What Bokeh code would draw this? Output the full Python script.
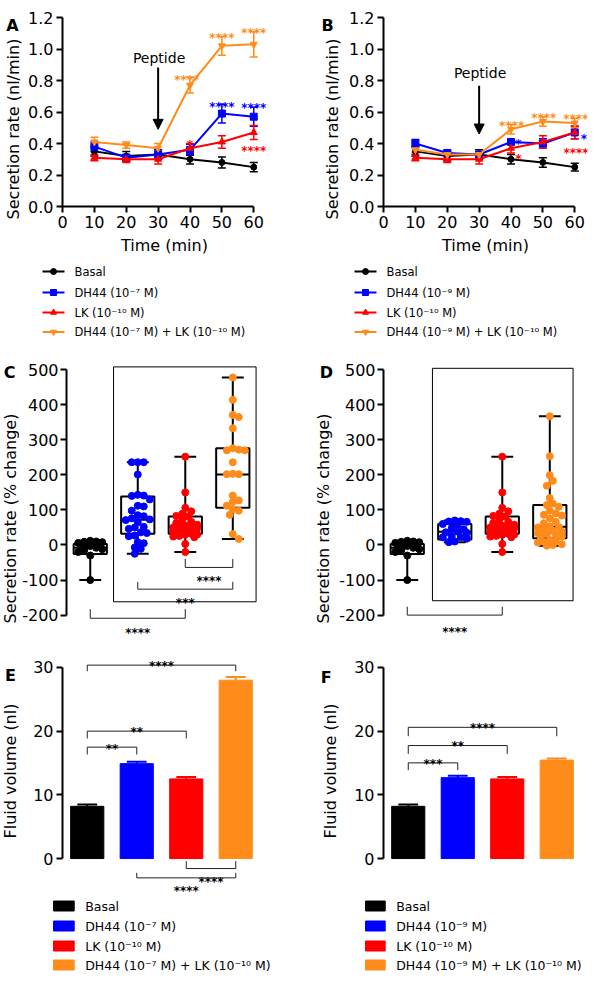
import math
from bokeh.plotting import figure
from bokeh.layouts import column, row
from bokeh.models import (Range1d, FixedTicker, Arrow, NormalHead, Whisker,
                          TeeHead, ColumnDataSource, NumeralTickFormatter)
from bokeh.embed import file_html
from bokeh.resources import INLINE
from bokeh.core.properties import value

FONT = "DejaVu Sans"
COLORS = ["#000000", "#0000FF", "#FF0000", "#FF8C1A"]
MARKERS = ["circle", "square", "triangle", "inverted_triangle"]

# ---------------- data ----------------
time_min = [10, 20, 30, 40, 50, 60]

a_basal = [0.35, 0.32, 0.33, 0.30, 0.28, 0.25]
a_basal_sem = [0.03, 0.03, 0.03, 0.03, 0.035, 0.03]
a_dh44 = [0.38, 0.31, 0.33, 0.36, 0.59, 0.57]
a_dh44_sem = [0.03, 0.02, 0.03, 0.035, 0.06, 0.06]
a_lk = [0.31, 0.30, 0.30, 0.37, 0.41, 0.47]
a_lk_sem = [0.02, 0.02, 0.03, 0.03, 0.04, 0.045]
a_combo = [0.41, 0.39, 0.37, 0.77, 1.02, 1.03]
a_combo_sem = [0.03, 0.02, 0.03, 0.05, 0.06, 0.08]

b_basal = [0.35, 0.32, 0.33, 0.30, 0.28, 0.25]
b_basal_sem = [0.03, 0.03, 0.03, 0.03, 0.03, 0.025]
b_dh44 = [0.40, 0.34, 0.33, 0.41, 0.40, 0.47]
b_dh44_sem = [0.025, 0.015, 0.02, 0.015, 0.03, 0.04]
b_lk = [0.31, 0.30, 0.30, 0.37, 0.41, 0.47]
b_lk_sem = [0.02, 0.02, 0.03, 0.03, 0.04, 0.04]
b_combo = [0.36, 0.33, 0.33, 0.49, 0.54, 0.53]
b_combo_sem = [0.02, 0.02, 0.02, 0.03, 0.03, 0.03]

a_star_x = [39, 50, 60, 50, 60, 40, 60]
a_star_y = [0.85, 1.115, 1.147, 0.678, 0.667, 0.433, 0.397]
a_star_txt = ["****", "****", "****", "****", "****", "*", "****"]
a_star_grp = [3, 3, 3, 1, 1, 2, 2]
b_star_x = [40.2, 50.3, 60.3, 42.3, 62.9, 42.3, 60.4]
b_star_y = [0.555, 0.604, 0.597, 0.443, 0.47, 0.344, 0.382]
b_star_txt = ["****", "****", "****", "*", "*", "*", "****"]
b_star_grp = [3, 3, 3, 1, 1, 2, 2]

legend_a = ["Basal", "DH44 (10\u207b\u2077 M)", "LK (10\u207b\u00b9\u2070 M)",
            "DH44 (10\u207b\u2077 M) + LK (10\u207b\u00b9\u2070 M)"]
legend_b = ["Basal", "DH44 (10\u207b\u2079 M)", "LK (10\u207b\u00b9\u2070 M)",
            "DH44 (10\u207b\u2079 M) +  LK (10\u207b\u00b9\u2070 M)"]

group_x = [1, 2, 3, 4]

c_basal = [12, 10, 9, 8, 6, 5, 3, 1, 0, -3, -8, -12, -15, -20, -30, -100]
c_dh44 = [236, 236, 236, 201, 143, 141, 140, 130, 112, 110, 98, 85, 82, 76, 73, 71,
          65, 52, 50, 46, 36, 34, 27, 25, 8, 5, -7, -11, -25]
c_lk = [252, 150, 106, 96, 89, 83, 81, 70, 66, 63, 58, 55, 53, 52, 50, 49, 48, 44,
        43, 42, 38, 37, 32, 30, 29, 26, 24, 22, 3, -20]
c_combo = [478, 414, 371, 365, 333, 276, 272, 270, 270, 236, 203, 202, 202, 141, 127,
           123, 112, 102, 98, 86, 31, 17]
c_q1 = [-26, 32, 32, 106]
c_med = [-8, 72, 51, 201]
c_q3 = [3, 138, 81, 276]

d_basal = [12, 10, 9, 8, 6, 5, 3, 1, 0, -3, -8, -12, -15, -20, -30, -100]
d_dh44 = [70, 68, 67, 66, 60, 58, 48, 45, 38, 36, 35, 25, 23, 22, 18, 10, 8]
d_lk = [252, 150, 106, 96, 89, 83, 81, 70, 66, 63, 58, 55, 53, 52, 50, 49, 48, 44,
        43, 42, 38, 37, 32, 30, 29, 26, 24, 22, 3, -20]
d_combo = [367, 253, 199, 183, 169, 134, 118, 114, 109, 98, 90, 86, 84, 76, 66, 62,
           53, 51, 50, 43, 41, 38, 34, 32, 30, 24, 22, 14, 12, 9, 7, 2, 0, -2]
d_q1 = [-26, 16, 32, 19]
d_med = [-8, 38, 51, 52]
d_q3 = [3, 60, 81, 114]

e_mean = [8.2, 14.9, 12.5, 28.0]
e_sem = [0.3, 0.3, 0.3, 0.5]
f_mean = [8.2, 12.7, 12.5, 15.45]
f_sem = [0.3, 0.3, 0.3, 0.25]

legend_e = legend_a
legend_f = legend_b

# significance brackets: (x1, x2, tick end, bar level, label x, label y, label)
c_brackets = [(3, 4, -40, -64, 3.5, -83, "****"),
              (2, 4, -105, -126, 3.0, -145, "***"),
              (1, 3, -183, -209, 2.0, -232, "****")]
d_brackets = [(1, 3, -176, -200, 2.0, -227, "****")]
e_brackets = [(1, 4, 29.4, 30.36, 2.5, 31.35, "****"),
              (1, 3, 18.84, 20.0, 2.0, 20.9, "**"),
              (1, 2, 16.33, 17.49, 1.5, 18.27, "**"),
              (3, 4, -0.41, -1.57, 3.5, -2.51, "****"),
              (2, 4, -2.24, -3.03, 3.0, -4.05, "****")]
f_brackets = [(1, 2, 13.88, 15.02, 1.5, 15.9, "***"),
              (1, 3, 16.43, 17.74, 2.0, 18.7, "**"),
              (1, 4, 19.2, 20.6, 2.5, 21.6, "****")]


# ---------------- helpers ----------------
def make_fig(fw, fh, l, r, t, b, xr, yr, x_axis=True, y_axis=True):
    p = figure(frame_width=fw, frame_height=fh, min_border_left=l, min_border_right=r,
               min_border_top=t, min_border_bottom=b, x_range=xr, y_range=yr,
               x_axis_location="below" if x_axis else None,
               y_axis_location="left" if y_axis else None,
               output_backend="svg", toolbar_location=None, tools="")
    p.grid.visible = False
    p.outline_line_color = None
    p.background_fill_color = "white"
    p.border_fill_color = "white"
    return p


def style_axis(ax, ticks, bounds, label=None, standoff=5, overrides=None, lab_std=3):
    ax.ticker = FixedTicker(ticks=ticks, minor_ticks=[])
    ax.bounds = bounds
    ax.axis_line_width = 2
    ax.axis_line_color = "black"
    ax.major_tick_line_width = 2
    ax.major_tick_line_color = "black"
    ax.major_tick_in = 0
    ax.major_tick_out = 6
    ax.minor_tick_line_color = None
    ax.major_label_text_font = FONT
    ax.major_label_text_font_size = "16px"
    ax.major_label_text_color = "black"
    ax.major_label_standoff = lab_std
    ax.axis_label = label
    ax.axis_label_text_font = FONT
    ax.axis_label_text_font_size = "16px"
    ax.axis_label_text_font_style = "normal"
    ax.axis_label_text_color = "black"
    ax.axis_label_standoff = standoff
    if overrides:
        ax.major_label_overrides = overrides


def strip(w, h, let, lx, ly, label, tx, ty):
    """Narrow figure holding the panel letter and the rotated y-axis title."""
    p = make_fig(w, h, 0, 0, 0, 0, Range1d(0, w), Range1d(h, 0), x_axis=False, y_axis=False)
    p.text(x=[lx], y=[ly], text=[let], text_font=value(FONT), text_font_size="16px",
           text_font_style="bold", text_align="center", text_baseline="middle",
           text_color="black")
    p.text(x=[tx], y=[ty], text=[label], angle=math.pi / 2, text_font=value(FONT),
           text_font_size="16px", text_align="center", text_baseline="middle",
           text_color="black")
    return p


def stars(p, xs, ys, texts, colors, fs=12):
    src = ColumnDataSource(dict(x=xs, y=ys, t=texts, c=colors))
    p.text(x="x", y="y", text="t", text_color="c", source=src, text_font=value(FONT),
           text_font_size=f"{fs}px", text_font_style="bold", text_align="center",
           text_baseline="alphabetic", y_offset=round(0.6 * fs))


def brackets(p, specs, color="#222222"):
    xs, ys = [], []
    for x1, x2, yend, ybar, lx, ly, t in specs:
        xs.append([x1, x1, x2, x2])
        ys.append([yend, ybar, ybar, yend])
    p.multi_line(xs, ys, line_color=color, line_width=1)
    stars(p, [s[4] for s in specs], [s[5] for s in specs], [s[6] for s in specs],
          ["#000000"] * len(specs))


def line_panel(l, r, vals, sems, sx, sy, st, sg, pep_y, arr_y0, arr_y1):
    p = make_fig(204, 189, l, r, 17, 56, Range1d(0, 64), Range1d(0, 1.2))
    style_axis(p.xaxis[0], [0, 10, 20, 30, 40, 50, 60], (0, 60), "Time (min)", 5)
    style_axis(p.yaxis[0], [0, 0.2, 0.4, 0.6, 0.8, 1.0, 1.2], (0, 1.2))
    p.yaxis[0].formatter = NumeralTickFormatter(format="0.0")
    for v, e, c, m in zip(vals, sems, COLORS, MARKERS):
        p.line(time_min, v, line_color=c, line_width=2)
        src = ColumnDataSource(dict(x=time_min, up=[a + b for a, b in zip(v, e)],
                                    lo=[a - b for a, b in zip(v, e)]))
        p.add_layout(Whisker(source=src, base="x", upper="up", lower="lo",
                             line_color=c, line_width=1.5,
                             upper_head=TeeHead(size=8, line_color=c, line_width=1.5),
                             lower_head=TeeHead(size=8, line_color=c, line_width=1.5)))
        p.scatter(time_min, v, marker=m, size=7 if m != "circle" else 6,
                  fill_color=c, line_color=c)
    stars(p, sx, sy, st, [COLORS[g] for g in sg])
    p.text(x=[30.3], y=[pep_y], text=["Peptide"], text_font=value(FONT),
           text_font_size="14px", text_align="center", text_baseline="middle",
           text_color="black")
    p.add_layout(Arrow(end=NormalHead(size=10, fill_color="black", line_color="black"),
                       x_start=30, y_start=arr_y0, x_end=30, y_end=arr_y1,
                       line_width=2, line_color="black"))
    return p


def swarm(vals, center, px_x, px_y, d=6.0, max_off=14.0):
    order = sorted(range(len(vals)), key=lambda i: -vals[i])
    placed = []
    out = [center] * len(vals)
    step = d * 0.5
    cands = [0.0]
    for j in range(1, int(max_off // step) + 1):
        cands += [j * step, -j * step]
    for i in order:
        y = vals[i] * px_y
        best, best_d = 0.0, -1.0
        for c in cands:
            md = min([math.hypot(c - px, y - py) for px, py in placed] or [1e9])
            if md >= d:
                best = c
                break
            if md > best_d:
                best_d, best = md, c
        placed.append((best, y))
        out[i] = center + best / px_x
    return out


BOX_FH = 278
BOX_Y0, BOX_Y1 = -281, 512


def box_panel(l, r, fw, groups, q1, med, q3, rect, specs):
    p = make_fig(fw, BOX_FH, l, r, 26, 0, Range1d(0.5, 4.52), Range1d(BOX_Y0, BOX_Y1),
                 x_axis=False)
    style_axis(p.yaxis[0], [-200, -100, 0, 100, 200, 300, 400, 500], (-200, 500),
               overrides={-200: "-200", -100: "-100"}, lab_std=2)
    p.quad(left=[rect[0]], right=[rect[1]], bottom=[rect[2]], top=[rect[3]],
           fill_alpha=0, line_color="black", line_width=1)
    mins = [min(g) for g in groups]
    maxs = [max(g) for g in groups]
    p.segment(group_x, q3, group_x, maxs, line_color="black", line_width=2)
    p.segment(group_x, q1, group_x, mins, line_color="black", line_width=2)
    p.segment([x - 0.23 for x in group_x], maxs, [x + 0.23 for x in group_x], maxs,
              line_color="black", line_width=2)
    p.segment([x - 0.23 for x in group_x], mins, [x + 0.23 for x in group_x], mins,
              line_color="black", line_width=2)
    p.vbar(x=group_x, bottom=q1, top=q3, width=0.7, fill_alpha=0,
           line_color="black", line_width=2)
    p.segment([x - 0.35 for x in group_x], med, [x + 0.35 for x in group_x], med,
              line_color="black", line_width=2)
    px_x = fw / 4.02
    px_y = BOX_FH / (BOX_Y1 - BOX_Y0)
    for gx, g, c in zip(group_x, groups, COLORS):
        xs = swarm(g, gx, px_x, px_y)
        p.scatter(xs, g, marker="circle", size=7, fill_color=c, line_color=c)
    brackets(p, specs)
    return p


def bar_panel(l, r, means, sems, specs):
    p = make_fig(198, 247, l, r, 8, 0, Range1d(0.5, 4.5), Range1d(-6.27, 32.5), x_axis=False)
    style_axis(p.yaxis[0], [0, 10, 20, 30], (0, 30))
    p.vbar(x=group_x, top=means, width=0.67, fill_color=COLORS, line_color=COLORS)
    tops = [m + s for m, s in zip(means, sems)]
    p.segment(group_x, means, group_x, tops, line_color=COLORS, line_width=2)
    p.segment([x - 0.2 for x in group_x], tops, [x + 0.2 for x in group_x], tops,
              line_color=COLORS, line_width=2)
    brackets(p, specs)
    return p


def line_legend(h, labels, ys, x0, x1, tx, fs):
    p = make_fig(292, h, 0, 0, 0, 0, Range1d(0, 292), Range1d(h, 0), x_axis=False, y_axis=False)
    for lab, y, c, m in zip(labels, ys, COLORS, MARKERS):
        p.line([x0, x1], [y, y], line_color=c, line_width=2)
        p.scatter([(x0 + x1) / 2], [y], marker=m, size=6, fill_color=c, line_color=c)
    p.text(x=[tx] * len(labels), y=ys, text=labels, text_font=value(FONT),
           text_font_size=fs, text_baseline="middle", text_align="left", text_color="black")
    return p


def bar_legend(h, labels, ys, x0, x1, tx, fs):
    p = make_fig(292, h, 0, 0, 0, 0, Range1d(0, 292), Range1d(h, 0), x_axis=False, y_axis=False)
    p.rect(x=[(x0 + x1) / 2] * len(labels), y=ys, width=x1 - x0, height=10,
           fill_color=COLORS, line_color=COLORS)
    p.text(x=[tx] * len(labels), y=ys, text=labels, text_font=value(FONT),
           text_font_size=fs, text_baseline="middle", text_align="left", text_color="black")
    return p


# ---------------- panels ----------------
LAB_LINE = "Secretion rate (nl/min)"
LAB_BOX = "Secretion rate (% change)"
LAB_BAR = "Fluid volume (nl)"

sA = strip(25, 262, "A", 12, 8, LAB_LINE, 13, 111.5)
pA = line_panel(35, 28, [a_basal, a_dh44, a_lk, a_combo],
                [a_basal_sem, a_dh44_sem, a_lk_sem, a_combo_sem],
                a_star_x, a_star_y, a_star_txt, a_star_grp, 0.946, 0.883, 0.49)
sB = strip(52, 262, "B", 33, 8, LAB_LINE, 38, 111.5)
pB = line_panel(35, 1, [b_basal, b_dh44, b_lk, b_combo],
                [b_basal_sem, b_dh44_sem, b_lk_sem, b_combo_sem],
                b_star_x, b_star_y, b_star_txt, b_star_grp, 0.85, 0.767, 0.46)

legAB_y = [9, 30, 50, 69.5]
lA = line_legend(77, legend_a, legAB_y, 42, 64, 74, "11.5px")
lB = line_legend(77, legend_b, legAB_y, 62, 84, 94, "11.5px")

sC = strip(19, 304, "C", 9, 7, LAB_BOX, 9.5, 153)
pC = box_panel(45, 37, 191, [c_basal, c_dh44, c_lk, c_combo], c_q1, c_med, c_q3,
               (1.49, 4.49, -162, 508), c_brackets)
sD = strip(42, 304, "D", 32, 7, LAB_BOX, 29, 153)
pD = box_panel(45, 14, 191, [d_basal, d_dh44, d_lk, d_combo], d_q1, d_med, d_q3,
               (1.53, 4.49, -159, 504), d_brackets)

sE = strip(30, 255, "E", 10, 24, LAB_BAR, 10.3, 119.5)
pE = bar_panel(30, 34, e_mean, e_sem, e_brackets)
sF = strip(57, 255, "F", 31.7, 25.7, LAB_BAR, 36, 119.5)
pF = bar_panel(30, 7, f_mean, f_sem, f_brackets)

legEF_y = [7.5, 27.5, 47.5, 66.5]
lE = bar_legend(74, legend_e, legEF_y, 53, 73.7, 84.7, "12.5px")
lF = bar_legend(74, legend_f, legEF_y, 73, 92.7, 103.7, "12.5px")

layout = column(row(sA, pA, sB, pB), row(lA, lB), row(sC, pC, sD, pD),
                row(sE, pE, sF, pF), row(lE, lF))

open("out.html", "w").write(file_html(layout, INLINE))
